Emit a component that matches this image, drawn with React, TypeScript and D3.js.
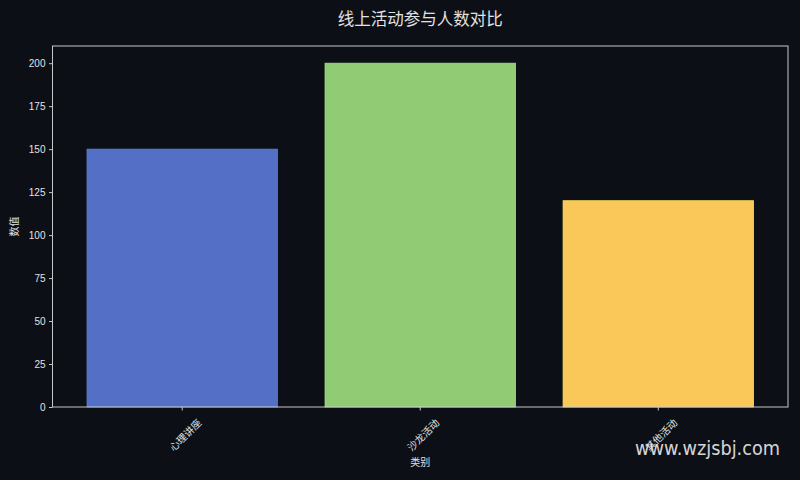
import React, { useRef, useEffect } from 'react';
import * as d3 from 'd3';

const categories = ['心理讲座', '沙龙活动', '其他活动'];
const values = [150, 200, 120];
const colors = ['#5470c6', '#91cc75', '#fac858'];
const yTicks = [0, 25, 50, 75, 100, 125, 150, 175, 200];

const W = 800;
const H = 480;
const margin = { top: 46, right: 12, bottom: 73, left: 52.5 };
const BG = '#0c0f15';
const TXT = '#e2e2e2';
const FONT = '"Liberation Sans", Arial, "Noto Sans CJK SC", sans-serif';
const CJK = '"Noto Sans CJK SC", sans-serif';

const App = () => {
  const svgRef = useRef<SVGSVGElement | null>(null);

  useEffect(() => {
    const svg = d3.select(svgRef.current);
    svg.selectAll('*').remove();

    const x0 = margin.left;
    const x1 = W - margin.right;
    const y0 = H - margin.bottom;
    const y1 = margin.top;

    svg.append('rect').attr('width', W).attr('height', H).attr('fill', BG);

    const x = d3.scaleBand<string>().domain(categories).range([x0, x1]).paddingInner(0.2).paddingOuter(0.145);
    const y = d3.scaleLinear().domain([0, 210]).range([y0, y1]);

    // bars
    svg.append('g').selectAll('rect').data(categories).join('rect')
      .attr('x', (d) => x(d)!)
      .attr('y', (d, i) => y(values[i]))
      .attr('width', x.bandwidth())
      .attr('height', (d, i) => y0 - y(values[i]))
      .attr('fill', (d, i) => colors[i])
      .attr('stroke', (d, i) => d3.color(colors[i])!.brighter(0.3).toString())
      .attr('stroke-width', 0.8);

    // frame
    svg.append('rect')
      .attr('x', x0).attr('y', y1).attr('width', x1 - x0).attr('height', y0 - y1)
      .attr('fill', 'none').attr('stroke', '#c8c8c8').attr('stroke-width', 1);

    // y axis
    const yAxis = svg.append('g').attr('transform', `translate(${x0},0)`)
      .call(d3.axisLeft(y).tickValues(yTicks).tickSize(3.5).tickPadding(3.5));
    yAxis.select('.domain').remove();
    yAxis.selectAll('line').attr('stroke', '#c8c8c8');
    yAxis.selectAll('text').attr('fill', TXT).attr('font-size', 10).attr('font-family', FONT);

    // x axis
    const xAxis = svg.append('g').attr('transform', `translate(0,${y0})`)
      .call(d3.axisBottom(x).tickSize(3.5).tickPadding(0));
    xAxis.select('.domain').remove();
    xAxis.selectAll('line').attr('stroke', '#c8c8c8');
    xAxis.selectAll('text')
      .attr('fill', TXT).attr('font-size', 10).attr('font-family', CJK)
      .attr('text-anchor', 'middle').attr('dy', null)
      .attr('transform', 'translate(0,25) rotate(-45)')
      .attr('dominant-baseline', 'central');

    // axis labels
    svg.append('text')
      .attr('x', (x0 + x1) / 2).attr('y', 466)
      .attr('text-anchor', 'middle').attr('fill', TXT)
      .attr('font-size', 10).attr('font-family', CJK).text('类别');
    svg.append('text')
      .attr('transform', `translate(18,${(y0 + y1) / 2}) rotate(-90)`)
      .attr('text-anchor', 'middle').attr('fill', TXT)
      .attr('font-size', 10).attr('font-family', CJK).text('数值');

    // title
    svg.append('text')
      .attr('x', (x0 + x1) / 2).attr('y', 25)
      .attr('text-anchor', 'middle').attr('fill', TXT)
      .attr('font-size', 16.5).attr('font-family', CJK).text('线上活动参与人数对比');

    // watermark
    svg.append('text')
      .attr('x', 635).attr('y', 455)
      .attr('fill', '#f0f0f0').attr('fill-opacity', 0.9)
      .attr('font-size', 20).attr('font-family', '"DejaVu Sans", sans-serif')
      .attr('textLength', 145).attr('lengthAdjust', 'spacingAndGlyphs')
      .text('www.wzjsbj.com');
  }, []);

  return (
    <svg ref={svgRef} width={W} height={H}
      style={{ position: 'absolute', left: 0, top: 0, display: 'block' }} />
  );
};

export default App;
